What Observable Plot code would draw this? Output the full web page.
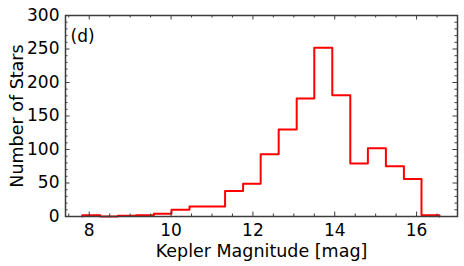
<!DOCTYPE html>
<html><head><meta charset="utf-8">
<script src="https://cdn.jsdelivr.net/npm/d3@7"></script>
<script src="https://cdn.jsdelivr.net/npm/@observablehq/plot@0.6"></script>
<style>body{margin:0;background:#fff} svg{font-family:"DejaVu Sans"}</style>
</head><body><div id="chart"></div>
<script>
const binEdges = [7.83, 8.27, 8.70, 9.14, 9.58, 10.01, 10.45, 10.89, 11.32, 11.76, 12.19,
                  12.63, 13.07, 13.50, 13.94, 14.38, 14.81, 15.25, 15.69, 16.12, 16.56];
const counts = [2, 0, 1, 2, 4, 10, 15, 15, 38, 49, 93, 130, 176, 252, 181, 79, 102, 75, 56, 2];
const xMajorTicks = [8, 10, 12, 14, 16];
const yMajorTicks = [0, 50, 100, 150, 200, 250, 300];
const xMinorTicks = [7.5, 8.5, 9, 9.5, 10.5, 11, 11.5, 12.5, 13, 13.5, 14.5, 15, 15.5, 16.5];
const yMinorTicks = d3.range(10, 300, 10).filter(v => v % 50 !== 0);
const panelLabel = "(d)";
const xLabel = "Kepler Magnitude [mag]";
const yLabel = "Number of Stars";

const W = 464, H = 266, mL = 65, mR = 7, mT = 15, mB = 50;
const pw = W - mL - mR, ph = H - mT - mB;
const frameColor = "#3c3c3c";

const stepPts = [{x: binEdges[0], y: 0}];
counts.forEach((c, i) => stepPts.push({x: binEdges[i], y: c}));
stepPts.push({x: binEdges[binEdges.length - 1], y: counts[counts.length - 1]});
stepPts.push({x: binEdges[binEdges.length - 1], y: 0});

const majLen = 4.5, minLen = 2.5;
const tickStyle = {stroke: frameColor, strokeWidth: 1};

const plot = Plot.plot({
  width: W, height: H,
  marginLeft: mL, marginRight: mR, marginTop: mT, marginBottom: mB,
  style: {fontFamily: "DejaVu Sans", fontSize: "17px", color: "#000", background: "#fff"},
  x: {domain: [7.42, 17], label: null},
  y: {domain: [0, 300], label: null},
  marks: [
    Plot.line(stepPts, {x: "x", y: "y", curve: "step-after", stroke: "#ff0000", strokeWidth: 2}),
    // inward ticks, bottom/top
    Plot.tickX(xMajorTicks, {x: d => d, insetTop: ph - majLen, ...tickStyle}),
    Plot.tickX(xMajorTicks, {x: d => d, insetBottom: ph - majLen, ...tickStyle}),
    Plot.tickX(xMinorTicks, {x: d => d, insetTop: ph - minLen, ...tickStyle}),
    Plot.tickX(xMinorTicks, {x: d => d, insetBottom: ph - minLen, ...tickStyle}),
    // inward ticks, left/right
    Plot.tickY(yMajorTicks, {y: d => d, insetRight: pw - majLen, ...tickStyle}),
    Plot.tickY(yMajorTicks, {y: d => d, insetLeft: pw - majLen, ...tickStyle}),
    Plot.tickY(yMinorTicks, {y: d => d, insetRight: pw - minLen, ...tickStyle}),
    Plot.tickY(yMinorTicks, {y: d => d, insetLeft: pw - minLen, ...tickStyle}),
    // tick labels
    Plot.axisX(xMajorTicks, {anchor: "bottom", tickSize: 0, tickPadding: 7, label: null, fontSize: 17}),
    Plot.axisY(yMajorTicks, {anchor: "left", tickSize: 0, tickPadding: 6, label: null, fontSize: 17}),
    // axis titles
    Plot.text([xLabel], {text: d => d, frameAnchor: "bottom", dy: 34.5, textAnchor: "middle", lineAnchor: "middle", fontSize: 17.5}),
    Plot.text([yLabel], {text: d => d, frameAnchor: "left", dx: -48, rotate: -90, textAnchor: "middle", lineAnchor: "middle", fontSize: 17.5}),
    Plot.text([panelLabel], {text: d => d, frameAnchor: "top-left", dx: 5, dy: 14, textAnchor: "start", lineAnchor: "top", fontSize: 17}),
    Plot.frame({stroke: frameColor, strokeWidth: 1.5})
  ]
});
document.getElementById("chart").appendChild(plot);
</script>
</body></html>
